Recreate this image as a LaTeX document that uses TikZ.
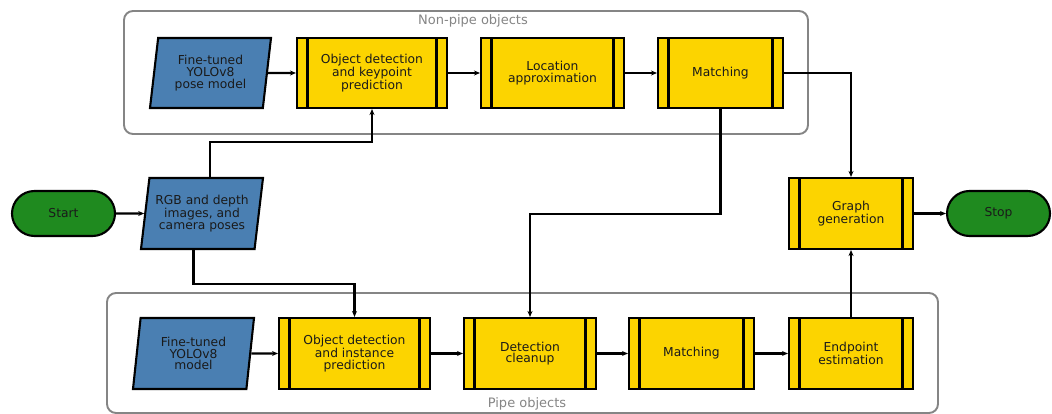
\documentclass[tikz,border=0pt]{standalone}
\usepackage{fontspec}
\setmainfont{DejaVu Sans}
\usetikzlibrary{shapes.geometric,shapes.misc,arrows.meta}
\definecolor{procyellow}{HTML}{FCD400}
\definecolor{ioblue}{HTML}{4A7FB2}
\definecolor{termgreen}{HTML}{1F8A1F}
\definecolor{groupgray}{HTML}{858585}
\definecolor{txt}{HTML}{1A1A1A}
\tikzset{
  proc/.style={draw=black, line width=2.1pt, fill=procyellow, rectangle, inner sep=0pt,
    align=center, text=txt, minimum height=70pt,
    path picture={
      \draw[line width=2.2pt] ([xshift=10.5pt]path picture bounding box.north west) -- ([xshift=10.5pt]path picture bounding box.south west);
      \draw[line width=2.2pt] ([xshift=-10.5pt]path picture bounding box.north east) -- ([xshift=-10.5pt]path picture bounding box.south east);
    }},
  io/.style={draw=black, line width=2.1pt, fill=ioblue, trapezium, trapezium left angle=77,
    trapezium right angle=103, trapezium stretches body, inner sep=0pt, align=center, text=txt,
    minimum height=70pt},
  term/.style={draw=black, line width=2.1pt, fill=termgreen, rounded rectangle, inner sep=0pt,
    minimum width=103pt, minimum height=45pt, text=txt},
  group/.style={draw=groupgray, line width=1.9pt, rounded corners=9pt, rectangle, inner sep=0pt},
  grouplabel/.style={text=groupgray, font=\fontsize{13}{13}\selectfont, inner sep=0pt, anchor=base},
  arr/.style={draw=black, line width=2.2pt, -{Stealth[length=6pt,width=5pt]}},
}
\begin{document}
\begin{tikzpicture}[x=1pt,y=-1pt, font=\fontsize{12.3}{11.7}\selectfont]
\useasboundingbox (0,0) rectangle (1052,414);
% groups
\node[group, minimum width=684pt, minimum height=123pt] (nonpipe) at (466,72.5) {};
\node[group, minimum width=831pt, minimum height=120pt] (pipe) at (522.5,353) {};
\node[grouplabel] (nonpipelabel) at (473,25) {Non-pipe objects};
\node[grouplabel] (pipelabel) at (527,407) {Pipe objects};
% top row
\node[io, minimum width=121pt] (yolo1) at (210.5,73) {Fine-tuned\\YOLOv8\\pose model};
\node[proc, minimum width=150pt] (objkp) at (372,73) {Object detection\\and keypoint\\prediction};
\node[proc, minimum width=143pt] (loc) at (552.5,73) {Location\\approximation};
\node[proc, minimum width=125pt] (match1) at (720.5,73) {Matching};
% middle row
\node[term] (start) at (63.5,213.5) {Start};
\node[io, minimum width=122pt, minimum height=71pt] (rgb) at (202,213.5) {RGB and depth\\images, and\\camera poses};
\node[proc, minimum width=124pt, minimum height=71pt] (graph) at (851,213.5) {Graph\\generation};
\node[term] (stop) at (998.5,213.5) {Stop};
% bottom row
\node[io, minimum width=121pt, minimum height=71pt] (yolo2) at (193.5,353.5) {Fine-tuned\\YOLOv8\\model};
\node[proc, minimum width=151pt, minimum height=71pt] (objinst) at (354.5,353.5) {Object detection\\and instance\\prediction};
\node[proc, minimum width=132pt, minimum height=71pt] (clean) at (530,353.5) {Detection\\cleanup};
\node[proc, minimum width=125pt, minimum height=71pt] (match2) at (691.5,353.5) {Matching};
\node[proc, minimum width=124pt, minimum height=71pt] (endpt) at (851,353.5) {Endpoint\\estimation};
% connectors
\draw[arr] (yolo1) -- (objkp);
\draw[arr] (objkp) -- (loc);
\draw[arr] (loc) -- (match1);
\draw[arr] (match1.east) -| (graph.north);
\draw[arr] (match1.south) -- ++(0,105) -| (clean.north);
\draw[arr] (start) -- (rgb);
\draw[arr] ([xshift=8pt]rgb.north) -- ++(0,-35) -| (objkp.south);
\draw[arr] ([xshift=-8.5pt]rgb.south) -- ++(0,34) -| (objinst.north);
\draw[arr] (graph) -- (stop);
\draw[arr] (yolo2) -- (objinst);
\draw[arr] (objinst) -- (clean);
\draw[arr] (clean) -- (match2);
\draw[arr] (match2) -- (endpt);
\draw[arr] (endpt) -- (graph);
\end{tikzpicture}
\end{document}
